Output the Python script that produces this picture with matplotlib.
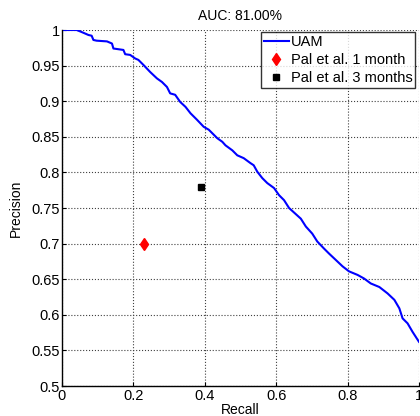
import matplotlib
matplotlib.use("Agg")
import matplotlib.pyplot as plt

plt.rcParams['font.family'] = ['Liberation Sans', 'DejaVu Sans']

recall = [0.0, 0.041, 0.051, 0.065, 0.074, 0.083, 0.088, 0.097, 0.126, 0.140, 0.144,
          0.158, 0.172, 0.177, 0.191, 0.205, 0.214, 0.228, 0.247, 0.266, 0.280, 0.294,
          0.303, 0.317, 0.331, 0.346, 0.360, 0.378, 0.397, 0.411, 0.435, 0.449, 0.458,
          0.477, 0.491, 0.509, 0.528, 0.537, 0.547, 0.561, 0.575, 0.594, 0.608, 0.622,
          0.636, 0.669, 0.683, 0.701, 0.715, 0.734, 0.748, 0.767, 0.786, 0.804, 0.828,
          0.846, 0.865, 0.889, 0.912, 0.931, 0.945, 0.954, 0.968, 0.982, 1.0]
precision = [1.0, 1.0, 0.998, 0.995, 0.993, 0.992, 0.986, 0.985, 0.984, 0.981, 0.974,
             0.973, 0.972, 0.966, 0.965, 0.960, 0.958, 0.951, 0.941, 0.932, 0.927, 0.920,
             0.911, 0.909, 0.899, 0.892, 0.883, 0.874, 0.864, 0.860, 0.848, 0.843, 0.838,
             0.831, 0.824, 0.820, 0.813, 0.810, 0.801, 0.792, 0.785, 0.778, 0.768, 0.761,
             0.750, 0.735, 0.724, 0.714, 0.703, 0.693, 0.686, 0.677, 0.668, 0.661, 0.656,
             0.651, 0.644, 0.639, 0.630, 0.621, 0.609, 0.595, 0.588, 0.576, 0.562]
pal1_x, pal1_y = [0.23], [0.70]
pal3_x, pal3_y = [0.39], [0.78]
xticks = [0, 0.2, 0.4, 0.6, 0.8, 1]
yticks = [0.5, 0.55, 0.6, 0.65, 0.7, 0.75, 0.8, 0.85, 0.9, 0.95, 1]
ytick_labels = ['0.5', '0.55', '0.6', '0.65', '0.7', '0.75', '0.8', '0.85', '0.9', '0.95', '1']
xtick_labels = ['0', '0.2', '0.4', '0.6', '0.8', '1']

fig = plt.figure(figsize=(4.2, 4.16), dpi=100)
ax = fig.add_axes([62/420, 30/416, 357/420, 356/416])

ax.plot(recall, precision, color='#0000ff', lw=1.5, label='UAM')
ax.plot(pal1_x, pal1_y, 'd', color='red', ms=6.5, label='Pal et al. 1 month', linestyle='none')
ax.plot(pal3_x, pal3_y, 's', color='black', ms=5, label='Pal et al. 3 months', linestyle='none')

ax.set_xlim(0, 1)
ax.set_ylim(0.5, 1)
ax.set_xticks(xticks)
ax.set_xticklabels(xtick_labels)
ax.set_yticks(yticks)
ax.set_yticklabels(ytick_labels)
ax.tick_params(direction='in', labelsize=10.5, length=3)
ax.tick_params(axis='x', pad=2.5)
ax.tick_params(axis='y', pad=1.5)
ax.grid(True, linestyle=':', color='#404040', linewidth=0.8)
for s in ['top', 'right']:
    ax.spines[s].set_visible(False)
for s in ['left', 'bottom']:
    ax.spines[s].set_linewidth(1.0)

ax.set_title('AUC: 81.00%', fontsize=10, pad=7)
ax.set_xlabel('Recall', fontsize=10)
ax.xaxis.set_label_coords(0.5, -0.048)
ax.set_ylabel('Precision', fontsize=10)
ax.yaxis.set_label_coords(-0.11, 0.5)

leg = ax.legend(loc='upper right', fontsize=10.5, frameon=True, fancybox=False,
                edgecolor='black', borderpad=0.2, labelspacing=0.3, handlelength=1.7,
                handletextpad=0.15, borderaxespad=0.0, bbox_to_anchor=(0.99, 0.995))
leg.get_frame().set_linewidth(1.0)

fig.savefig('out.png', dpi=100)
